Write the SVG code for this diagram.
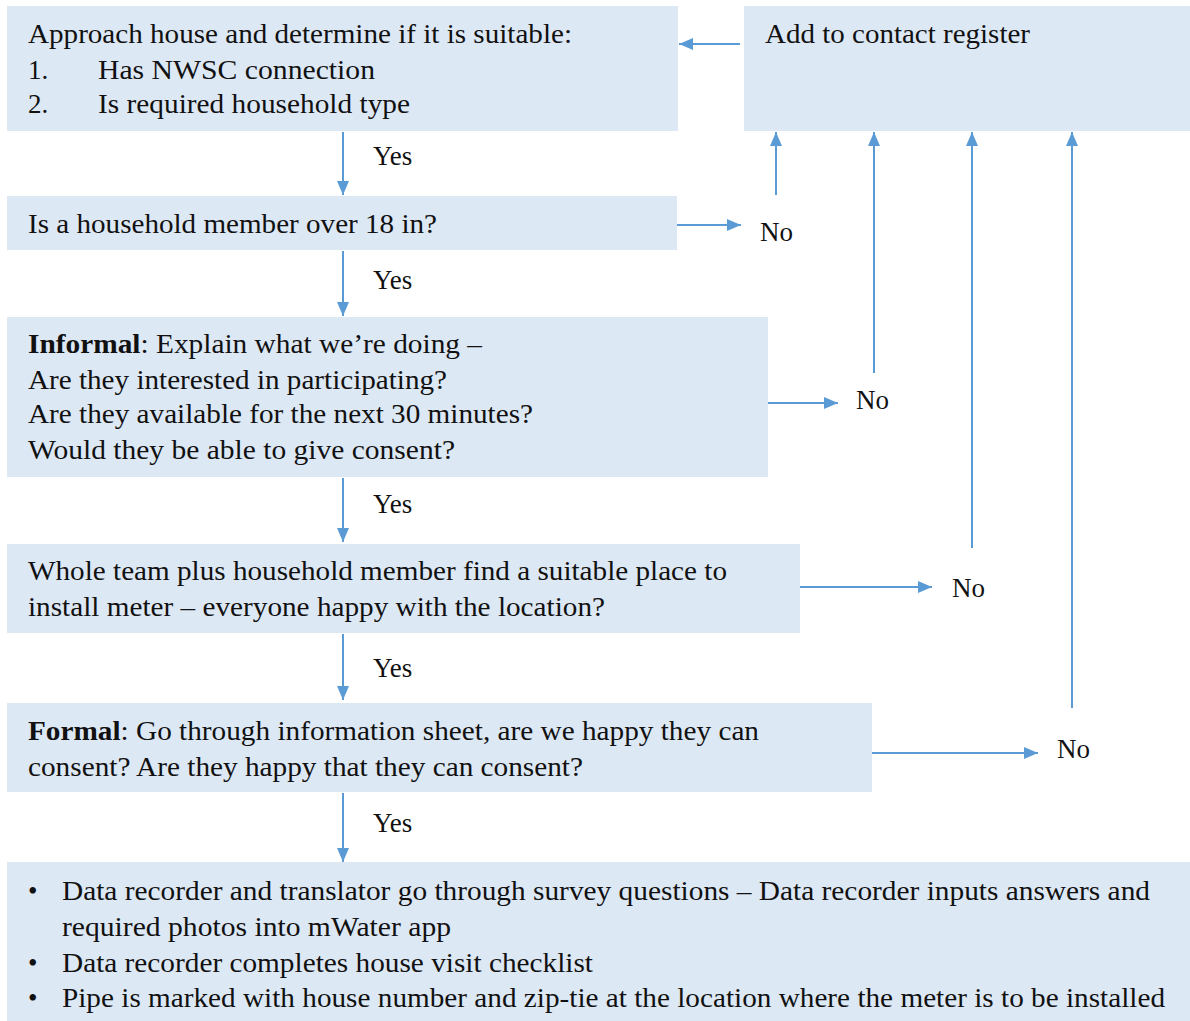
<svg xmlns="http://www.w3.org/2000/svg" width="1190" height="1021" viewBox="0 0 1190 1021">
<style>
.box{fill:#dde8f5;}
text{font-family:'Liberation Serif','Times New Roman',serif;font-size:27px;fill:#111;}
.b{font-weight:bold;}
.c{stroke:#5b9bd5;stroke-width:2;fill:none;}
</style>
<defs>
<marker id="a" viewBox="0 0 14 12" refX="14" refY="6" markerWidth="14" markerHeight="12" markerUnits="userSpaceOnUse" orient="auto">
<path d="M0,0 L14,6 L0,12 Z" fill="#5b9bd5"/>
</marker>
</defs>
<rect width="1190" height="1021" fill="#fff"/>
<g font-family="Liberation Serif, serif">
<g id="n1"><rect class="box" x="7" y="6" width="671" height="125"/>
<text x="28" y="43" textLength="544" lengthAdjust="spacingAndGlyphs">Approach house and determine if it is suitable:</text>
<text x="28" y="79">1.</text><text x="98" y="79" textLength="277" lengthAdjust="spacingAndGlyphs">Has NWSC  connection</text>
<text x="28" y="113">2.</text><text x="98" y="113" textLength="312" lengthAdjust="spacingAndGlyphs">Is required household type</text></g>
<g id="n_register"><rect class="box" x="744" y="6" width="446" height="125"/>
<text x="765" y="43" textLength="265" lengthAdjust="spacingAndGlyphs">Add to contact register</text></g>
<g id="n2"><rect class="box" x="7" y="196" width="670" height="54"/>
<text x="28" y="233" textLength="409" lengthAdjust="spacingAndGlyphs">Is a household member over 18 in?</text></g>
<g id="n3"><rect class="box" x="7" y="317" width="761" height="160"/>
<text x="28" y="353" textLength="454" lengthAdjust="spacingAndGlyphs"><tspan class="b">Informal</tspan>: Explain what we’re doing –</text>
<text x="28" y="389" textLength="419" lengthAdjust="spacingAndGlyphs">Are they interested in participating?</text>
<text x="28" y="423" textLength="505" lengthAdjust="spacingAndGlyphs">Are they available for the next 30 minutes?</text>
<text x="28" y="459" textLength="427" lengthAdjust="spacingAndGlyphs">Would they be able to give consent?</text></g>
<g id="n4"><rect class="box" x="7" y="544" width="793" height="89"/>
<text x="28" y="580" textLength="699" lengthAdjust="spacingAndGlyphs">Whole team plus household member find a suitable place to</text>
<text x="28" y="616" textLength="577" lengthAdjust="spacingAndGlyphs">install meter – everyone happy with the location?</text></g>
<g id="n5"><rect class="box" x="7" y="703" width="865" height="89"/>
<text x="28" y="740" textLength="731" lengthAdjust="spacingAndGlyphs"><tspan class="b">Formal</tspan>: Go through information sheet, are we happy they can</text>
<text x="28" y="776" textLength="555" lengthAdjust="spacingAndGlyphs">consent? Are they happy that they can consent?</text></g>
<g id="n6"><rect class="box" x="7" y="862" width="1183" height="159"/>
<text x="28" y="900">•</text><text x="62" y="900" textLength="1088" lengthAdjust="spacingAndGlyphs">Data recorder and translator go through survey questions – Data recorder inputs answers and</text>
<text x="62" y="936" textLength="389" lengthAdjust="spacingAndGlyphs">required photos into mWater app</text>
<text x="28" y="972">•</text><text x="62" y="972" textLength="531" lengthAdjust="spacingAndGlyphs">Data recorder completes house visit checklist</text>
<text x="28" y="1007">•</text><text x="62" y="1007" textLength="1103" lengthAdjust="spacingAndGlyphs">Pipe is marked with house number and zip-tie at the location where the meter is to be installed</text></g>
<g id="connectors">
<line class="c" x1="740" y1="44" x2="679" y2="44" marker-end="url(#a)"/>
<line class="c" x1="343" y1="132" x2="343" y2="195" marker-end="url(#a)"/>
<line class="c" x1="343" y1="251" x2="343" y2="316" marker-end="url(#a)"/>
<line class="c" x1="343" y1="478" x2="343" y2="542" marker-end="url(#a)"/>
<line class="c" x1="343" y1="634" x2="343" y2="700" marker-end="url(#a)"/>
<line class="c" x1="343" y1="793" x2="343" y2="862" marker-end="url(#a)"/>
<line class="c" x1="677" y1="225" x2="741" y2="225" marker-end="url(#a)"/>
<line class="c" x1="768" y1="403" x2="838" y2="403" marker-end="url(#a)"/>
<line class="c" x1="800" y1="587" x2="932" y2="587" marker-end="url(#a)"/>
<line class="c" x1="872" y1="753" x2="1038" y2="753" marker-end="url(#a)"/>
<line class="c" x1="776" y1="195" x2="776" y2="132" marker-end="url(#a)"/>
<line class="c" x1="874" y1="373" x2="874" y2="132" marker-end="url(#a)"/>
<line class="c" x1="972" y1="548" x2="972" y2="132" marker-end="url(#a)"/>
<line class="c" x1="1072" y1="708" x2="1072" y2="132" marker-end="url(#a)"/>
<text x="373" y="165">Yes</text>
<text x="373" y="289">Yes</text>
<text x="373" y="513">Yes</text>
<text x="373" y="677">Yes</text>
<text x="373" y="832">Yes</text>
<text x="760" y="241">No</text>
<text x="856" y="409">No</text>
<text x="952" y="597">No</text>
<text x="1057" y="758">No</text>
</g>
</g>
</svg>
